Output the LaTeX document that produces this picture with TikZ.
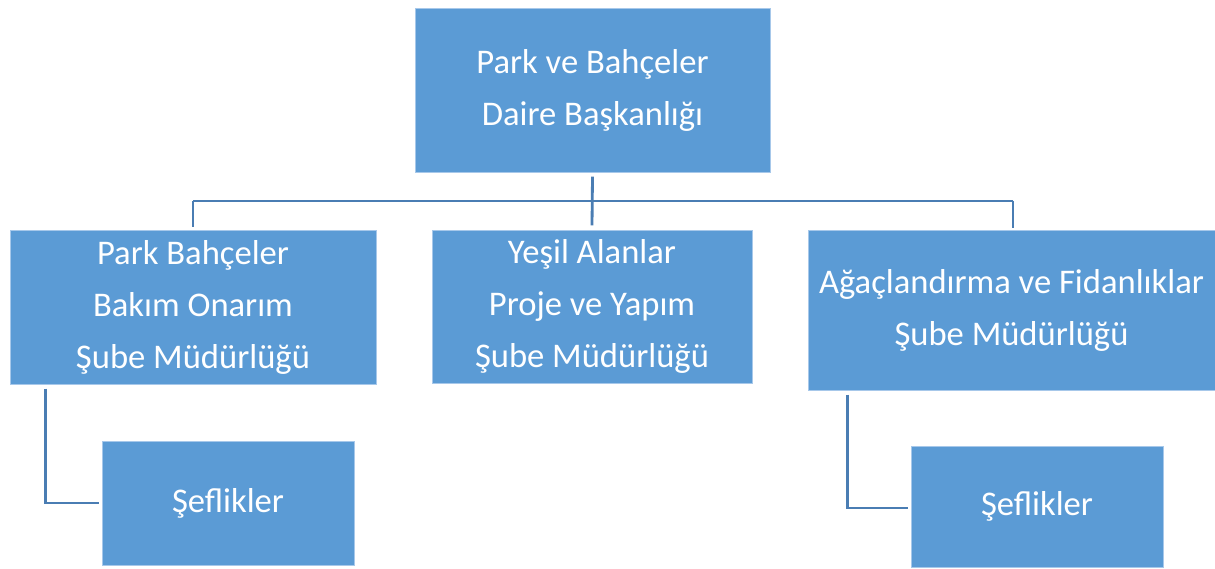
\documentclass[tikz,border=0pt]{standalone}
\usepackage{fontspec}
\setmainfont{Carlito}
\definecolor{boxblue}{HTML}{5B9BD5}
\definecolor{boxedge}{HTML}{A7C8EA}
\definecolor{linkblue}{HTML}{4A7DB3}
\tikzset{
  unit/.style={fill=boxblue,draw=boxedge,line width=0.6pt,text=white,align=center,
    inner sep=0pt,font=\fontsize{24.6}{37}\selectfont},
  link/.style={draw=linkblue,line width=2pt}
}

\begin{document}
\begin{tikzpicture}[x=0.025cm,y=-0.025cm,line cap=butt,line join=miter]
  \useasboundingbox (0,0) rectangle (1215,569);
  \node[unit,minimum width=355*0.025cm,minimum height=164*0.025cm] (daire) at (592.5,90)
    {Park ve Bahçeler\\Daire Başkanlığı};
  \node[unit,minimum width=366*0.025cm,minimum height=154*0.025cm] (bakim) at (193,307)
    {Park Bahçeler\\Bakım Onarım\\Şube Müdürlüğü};
  \node[unit,minimum width=320*0.025cm,minimum height=153*0.025cm] (proje) at (592,306.5)
    {Yeşil Alanlar\\Proje ve Yapım\\Şube Müdürlüğü};
  \node[unit,minimum width=407*0.025cm,minimum height=160*0.025cm] (fidan) at (1011.5,310)
    {Ağaçlandırma ve Fidanlıklar\\Şube Müdürlüğü};
  \node[unit,minimum width=252*0.025cm,minimum height=124*0.025cm] (sefA) at (228,503)
    {Şeflikler};
  \node[unit,minimum width=252*0.025cm,minimum height=121*0.025cm] (sefB) at (1037,506.5)
    {Şeflikler};
  \coordinate (bus) at (593,201);
  \draw[link] ([yshift=-3]daire.south) -- ([yshift=3]proje.north);
  \draw[link] (193,201) -- (1013,201);
  \draw[link] (193,201) -- ([yshift=2]bakim.north);
  \draw[link] (1013,201) -- (1013,228);
  \draw[link] ([xshift=36*0.025cm,yshift=-3]bakim.south west) |- ([xshift=-2]sefA.west);
  \draw[link] ([xshift=40*0.025cm,yshift=-3]fidan.south west) |- ([xshift=-2,yshift=-1.5*0.025cm]sefB.west);
\end{tikzpicture}
\end{document}
